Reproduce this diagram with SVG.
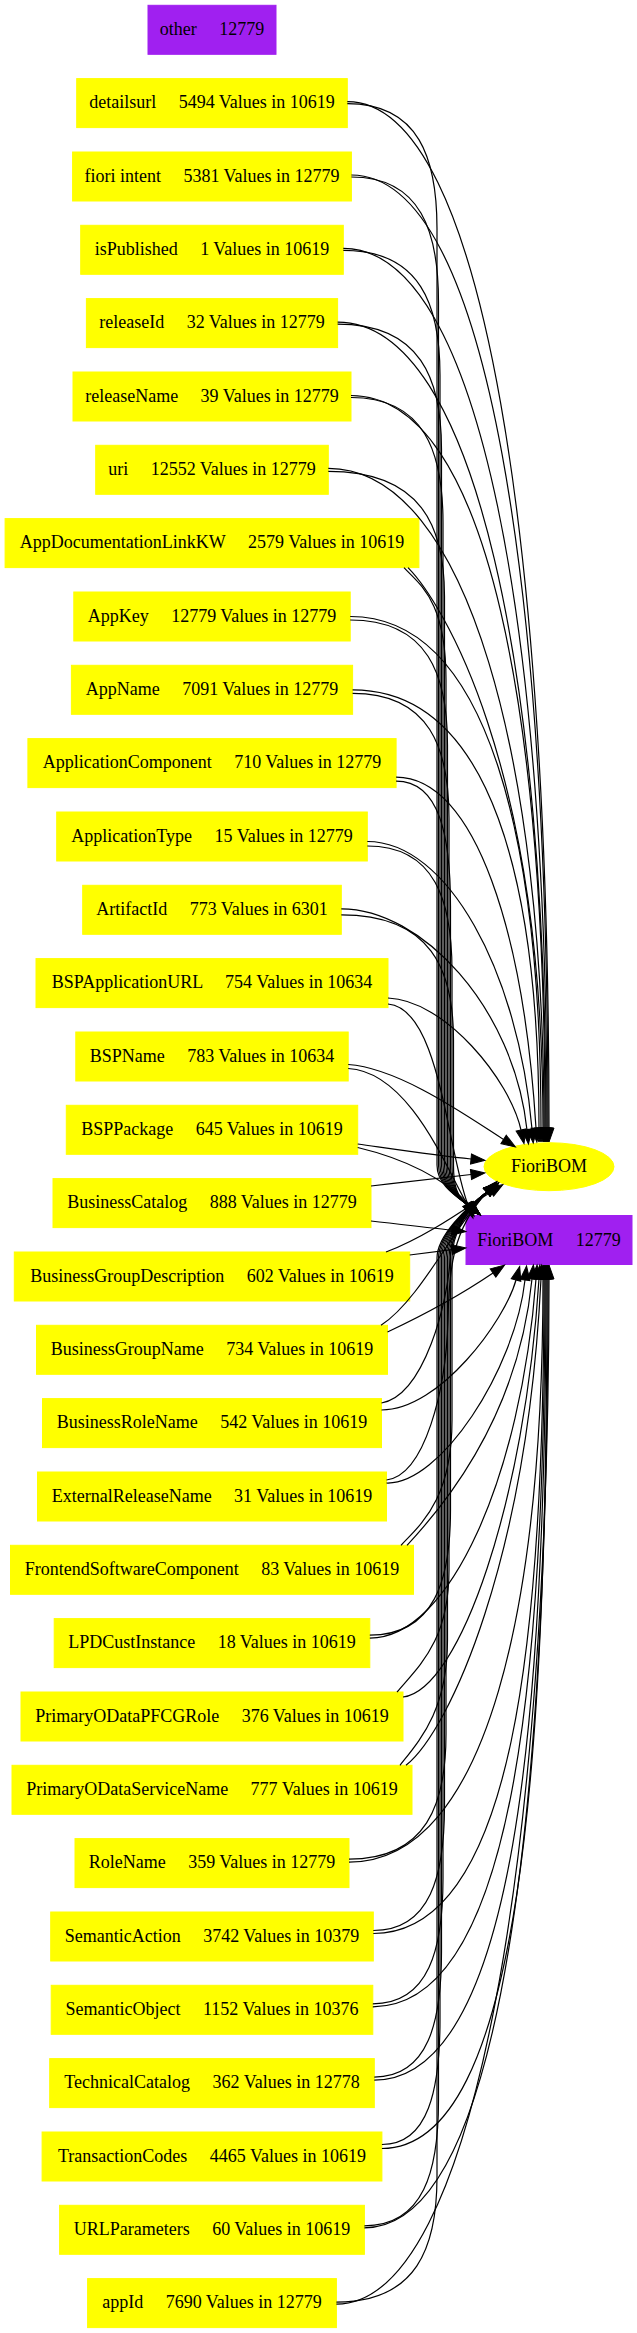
<svg xmlns="http://www.w3.org/2000/svg" width="637" height="2333" viewBox="0 0 637 2333" xml:space="preserve">
<style>
.y rect{fill:#ffff00;stroke:#ffff00;stroke-width:1}
.p rect{fill:#a020f0;stroke:#a020f0;stroke-width:1}
text{font-family:"Liberation Serif","Times New Roman",serif;font-size:18px;text-anchor:middle;fill:#000;white-space:pre}
#edges path{fill:none;stroke:#000;stroke-width:1.2;marker-end:url(#a)}
</style>
<defs>
<marker id="a" markerUnits="userSpaceOnUse" markerWidth="14" markerHeight="10" viewBox="0 0 14 10" refX="0" refY="5" orient="auto" style="overflow:visible"><path d="M0,0 L14,5 L0,10 z" fill="#000" stroke="#000" stroke-width="1"/></marker>
</defs>
<rect width="637" height="2333" fill="#fff"/>
<g id="n0" class="p"><rect x="148" y="5.3" width="128" height="49"/><text x="212" y="34.8">other     12779</text></g>
<g id="n1" class="y"><rect x="76.7" y="78.6" width="270.6" height="49"/><text x="212" y="108.1">detailsurl     5494 Values in 10619</text></g>
<g id="n2" class="y"><rect x="72.6" y="152" width="278.8" height="49"/><text x="212" y="181.5">fiori intent     5381 Values in 12779</text></g>
<g id="n3" class="y"><rect x="80.7" y="225.3" width="262.6" height="49"/><text x="212" y="254.8">isPublished     1 Values in 10619</text></g>
<g id="n4" class="y"><rect x="86.4" y="298.6" width="251.2" height="49"/><text x="212" y="328.1">releaseId     32 Values in 12779</text></g>
<g id="n5" class="y"><rect x="73" y="372" width="278" height="49"/><text x="212" y="401.5">releaseName     39 Values in 12779</text></g>
<g id="n6" class="y"><rect x="95.7" y="445.3" width="232.6" height="49"/><text x="212" y="474.8">uri     12552 Values in 12779</text></g>
<g id="n7" class="y"><rect x="5.1" y="518.6" width="413.8" height="49"/><text x="212" y="548.1">AppDocumentationLinkKW     2579 Values in 10619</text></g>
<g id="n8" class="y"><rect x="73.8" y="592" width="276.4" height="49"/><text x="212" y="621.5">AppKey     12779 Values in 12779</text></g>
<g id="n9" class="y"><rect x="71.4" y="665.3" width="281.2" height="49"/><text x="212" y="694.8">AppName     7091 Values in 12779</text></g>
<g id="n10" class="y"><rect x="27.9" y="738.6" width="368.2" height="49"/><text x="212" y="768.1">ApplicationComponent     710 Values in 12779</text></g>
<g id="n11" class="y"><rect x="56.7" y="812" width="310.6" height="49"/><text x="212" y="841.5">ApplicationType     15 Values in 12779</text></g>
<g id="n12" class="y"><rect x="82.7" y="885.3" width="258.6" height="49"/><text x="212" y="914.8">ArtifactId     773 Values in 6301</text></g>
<g id="n13" class="y"><rect x="36" y="958.6" width="352" height="49"/><text x="212" y="988.1">BSPApplicationURL     754 Values in 10634</text></g>
<g id="n14" class="y"><rect x="75.8" y="1032" width="272.4" height="49"/><text x="212" y="1061.5">BSPName     783 Values in 10634</text></g>
<g id="n15" class="y"><rect x="66.3" y="1105.3" width="291.4" height="49"/><text x="212" y="1134.8">BSPPackage     645 Values in 10619</text></g>
<g id="n16" class="y"><rect x="53" y="1178.6" width="318" height="49"/><text x="212" y="1208.1">BusinessCatalog     888 Values in 12779</text></g>
<g id="n17" class="y"><rect x="14.3" y="1252" width="395.4" height="49"/><text x="212" y="1281.5">BusinessGroupDescription     602 Values in 10619</text></g>
<g id="n18" class="y"><rect x="36.5" y="1325.3" width="351" height="49"/><text x="212" y="1354.8">BusinessGroupName     734 Values in 10619</text></g>
<g id="n19" class="y"><rect x="42.5" y="1398.6" width="339" height="49"/><text x="212" y="1428.1">BusinessRoleName     542 Values in 10619</text></g>
<g id="n20" class="y"><rect x="37.5" y="1472" width="349" height="49"/><text x="212" y="1501.5">ExternalReleaseName     31 Values in 10619</text></g>
<g id="n21" class="y"><rect x="10.5" y="1545.3" width="403" height="49"/><text x="212" y="1574.8">FrontendSoftwareComponent     83 Values in 10619</text></g>
<g id="n22" class="y"><rect x="54.2" y="1618.6" width="315.6" height="49"/><text x="212" y="1648.1">LPDCustInstance     18 Values in 10619</text></g>
<g id="n23" class="y"><rect x="21" y="1692" width="382" height="49"/><text x="212" y="1721.5">PrimaryODataPFCGRole     376 Values in 10619</text></g>
<g id="n24" class="y"><rect x="12" y="1765.3" width="400" height="49"/><text x="212" y="1794.8">PrimaryODataServiceName     777 Values in 10619</text></g>
<g id="n25" class="y"><rect x="75" y="1838.6" width="274" height="49"/><text x="212" y="1868.1">RoleName     359 Values in 12779</text></g>
<g id="n26" class="y"><rect x="50.7" y="1912" width="322.6" height="49"/><text x="212" y="1941.5">SemanticAction     3742 Values in 10379</text></g>
<g id="n27" class="y"><rect x="51.2" y="1985.3" width="321.6" height="49"/><text x="212" y="2014.8">SemanticObject     1152 Values in 10376</text></g>
<g id="n28" class="y"><rect x="49.7" y="2058.6" width="324.6" height="49"/><text x="212" y="2088.1">TechnicalCatalog     362 Values in 12778</text></g>
<g id="n29" class="y"><rect x="42.1" y="2132" width="339.8" height="49"/><text x="212" y="2161.5">TransactionCodes     4465 Values in 10619</text></g>
<g id="n30" class="y"><rect x="59.6" y="2205.3" width="304.8" height="49"/><text x="212" y="2234.8">URLParameters     60 Values in 10619</text></g>
<g id="n31" class="y"><rect x="87.6" y="2278.6" width="248.8" height="49"/><text x="212" y="2308.1">appId     7690 Values in 12779</text></g>
<g id="fioribom"><ellipse cx="549" cy="1166.7" rx="65" ry="24" fill="#ffff00" stroke="#ffff00"/><text x="549" y="1172">FioriBOM</text></g>
<g id="fioribom_total" class="p"><rect x="466" y="1215.5" width="166" height="49"/><text x="549" y="1245.5">FioriBOM     12779</text></g>
<g id="edges">
<path d="M347.3,101.6 C487.3,101.6 549,563.5 549,1128"/>
<path d="M351.4,175 C491.4,175 548,603.9 548,1128"/>
<path d="M343.3,248.3 C483.3,248.3 547,644.2 547,1128"/>
<path d="M337.6,322.1 C477.6,322.1 546,684.8 546,1128"/>
<path d="M351,395.5 C491,395.5 545,725.1 545,1128"/>
<path d="M328.3,468.3 C468.3,468.3 544,765.2 544,1128"/>
<path d="M408,567.6 C440,600 543,760 543,1128"/>
<path d="M350.2,616.5 C490.2,616.5 541,846.7 541,1128"/>
<path d="M352.6,689.8 C492.6,689.8 539,887 539,1128"/>
<path d="M396.1,777.1 C476.1,777.1 524,935 536,1128"/>
<path d="M367.3,841.5 C447.3,841.5 518,970.4 532,1129"/>
<path d="M341.3,908.8 C421.3,908.8 514,1007.4 527,1130"/>
<path d="M388,998 C445,1000 510,1080 521,1130"/>
<path d="M348.2,1064.5 C400,1068 470,1118 503.6,1139.4"/>
<path d="M357.7,1144 C400,1150 440,1156 471,1159"/>
<path d="M371,1186 C405,1182 440,1178 471,1174.5"/>
<path d="M386,1252 C430,1235 470,1205 491,1192"/>
<path d="M381,1325.3 C420,1300 455,1225 487,1192"/>
<path d="M381.5,1403 C425,1395 448,1300 450,1260 C451,1240 458,1220 487,1192"/>
<path d="M386.5,1480 C425,1475 446,1390 448,1320 C449,1270 452,1230 487,1192"/>
<path d="M401,1545.3 C420,1525 452,1500 452,1420 L452,1258 C452,1236 466,1208 487,1192"/>
<path d="M369.8,1635.1 C434.4,1635.1 450.5,1580.1 450.5,1510.1 L450.5,1258 C450.5,1236 466,1208 487,1192"/>
<path d="M397,1692 C420,1665 449,1640 449,1570 L449,1258 C449,1236 466,1208 487,1192"/>
<path d="M400,1765.3 C420,1740 447.5,1710 447.5,1640 L447.5,1258 C447.5,1236 466,1208 487,1192"/>
<path d="M349,1859.1 C426.6,1859.1 446,1804.1 446,1734.1 L446,1258 C446,1236 466,1208 487,1192"/>
<path d="M373.3,1930.5 C430.3,1930.5 444.5,1875.5 444.5,1805.5 L444.5,1258 C444.5,1236 466,1208 487,1192"/>
<path d="M372.8,2003.8 C429,2003.8 443,1948.8 443,1878.8 L443,1258 C443,1236 466,1208 487,1192"/>
<path d="M374.3,2077.1 C428.1,2077.1 441.5,2022.1 441.5,1952.1 L441.5,1258 C441.5,1236 466,1208 487,1192"/>
<path d="M381.9,2144.5 C428.4,2144.5 440,2089.5 440,2019.5 L440,1258 C440,1236 466,1208 487,1192"/>
<path d="M364.4,2225.8 C423.7,2225.8 438.5,2170.8 438.5,2100.8 L438.5,1258 C438.5,1236 466,1208 487,1192"/>
<path d="M336.4,2302.1 C416.9,2302.1 437,2247.1 437,2177.1 L437,1258 C437,1236 466,1208 487,1192"/>
<path d="M347.3,103.6 C419.1,103.6 437,158.6 437,228.6 L437,1165 C437,1185 456,1196 469,1206"/>
<path d="M351.4,177 C421.1,177 438.5,232 438.5,302 L438.5,1165 C438.5,1185 456,1196 469,1206"/>
<path d="M343.3,250.3 C420.7,250.3 440,305.3 440,375.3 L440,1165 C440,1185 456,1196 469,1206"/>
<path d="M337.6,324.1 C420.7,324.1 441.5,379.1 441.5,449.1 L441.5,1165 C441.5,1185 456,1196 469,1206"/>
<path d="M351,397.5 C424.6,397.5 443,452.5 443,522.5 L443,1165 C443,1185 456,1196 469,1206"/>
<path d="M328.3,471.3 C421.3,471.3 444.5,526.3 444.5,596.3 L444.5,1165 C444.5,1185 456,1196 469,1206"/>
<path d="M404,567.6 C420,585 446,600 446,680 L446,1165 C446,1185 456,1196 469,1206"/>
<path d="M350.2,620 C428,620 447.5,675 447.5,745 L447.5,1165 C447.5,1185 456,1196 469,1206"/>
<path d="M352.6,693.3 C429.7,693.3 449,748.3 449,818.3 L449,1165 C449,1185 456,1196 469,1206"/>
<path d="M396.1,781.1 C439.6,781.1 450.5,836.1 450.5,906.1 L450.5,1165 C450.5,1185 456,1196 469,1206"/>
<path d="M367.3,846 C435.1,846 452,901 452,971 L452,1165 C452,1185 456,1196 469,1206"/>
<path d="M341.3,914.8 C431.1,914.8 453.5,969.8 453.5,1039.8 L453.5,1165 C453.5,1185 456,1196 469,1206"/>
<path d="M388,1004 C440,1008 447,1150 468,1205"/>
<path d="M348.2,1068.5 C410,1072 447,1170 467,1204"/>
<path d="M357.7,1147.5 C410,1160 445,1180 470,1205"/>
<path d="M371,1221 C400,1224 430,1228 452,1230.2"/>
<path d="M409.7,1255 C425,1253 440,1251 452,1249.6"/>
<path d="M387.5,1332 C430,1312 468,1290 493,1273"/>
<path d="M381.5,1410 C440,1410 505,1320 516,1280"/>
<path d="M386.5,1483 C440,1485 515,1370 525,1280"/>
<path d="M407,1545.3 C440,1510 518,1420 532,1279"/>
<path d="M369.8,1638.1 C449.8,1638.1 521,1476.5 536,1279"/>
<path d="M403,1697 C460,1690 525,1500 539,1279"/>
<path d="M406,1765.3 C450,1730 527,1560 541,1279"/>
<path d="M349,1862.1 C489,1862.1 543,1599.7 543,1279"/>
<path d="M373.3,1933.5 C513.3,1933.5 544,1639 544,1279"/>
<path d="M372.8,2006.8 C512.8,2006.8 545,1679.3 545,1279"/>
<path d="M374.3,2080.1 C514.3,2080.1 546,1719.6 546,1279"/>
<path d="M381.9,2148.5 C521.9,2148.5 547,1757.2 547,1279"/>
<path d="M364.4,2227.8 C504.4,2227.8 548,1800.8 548,1279"/>
<path d="M336.4,2304.1 C476.4,2304.1 549,1842.8 549,1279"/>
</g>
</svg>
